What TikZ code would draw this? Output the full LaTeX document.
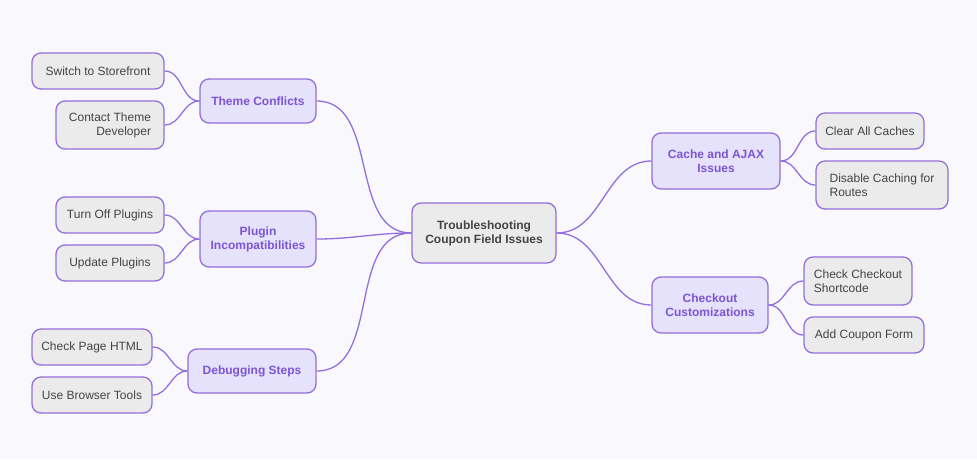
\documentclass[tikz,border=0pt]{standalone}
\usepackage{fontspec}
\setmainfont{Liberation Sans}
\begin{document}
\definecolor{bg}{HTML}{F8F8FD}
\definecolor{edge}{HTML}{9370DB}
\definecolor{midf}{HTML}{E6E2FC}
\definecolor{leaff}{HTML}{EBEBEB}
\definecolor{midt}{HTML}{7B55D4}
\definecolor{leaft}{HTML}{444444}
\begin{tikzpicture}[x=1pt,y=-1pt,
  box/.style={draw=edge,line width=1.3pt,rounded corners=9pt,align=center,inner sep=0pt,font=\fontsize{12}{14}\selectfont},
  mid/.style={box,fill=midf,text=midt,font=\fontsize{12}{14}\selectfont\bfseries},
  leaf/.style={box,fill=leaff,text=leaft},
  ctr/.style={box,fill=leaff,text=leaft,font=\fontsize{12}{14}\selectfont\bfseries},
  con/.style={draw=edge,line width=1.3pt}]
\fill[bg] (0,0) rectangle (977,459);
\useasboundingbox (0,0) rectangle (977,459);
\newcommand\bx[6]{\node[#1,minimum width=#4-#2,minimum height=#5-#3] (#6) at ({(#2+#4)/2},{(#3+#5)/2})}
\bx{ctr}{412}{203}{556}{263}{c} {Troubleshooting\\Coupon Field Issues};
\bx{mid}{200}{79}{316}{123}{tc} {Theme Conflicts};
\bx{mid}{200}{211}{316}{267}{pi} {Plugin\\Incompatibilities};
\bx{mid}{188}{349}{316}{393}{ds} {Debugging Steps};
\bx{mid}{652}{133}{780}{189}{ca} {Cache and AJAX\\Issues};
\bx{mid}{652}{277}{768}{333}{cc} {Checkout\\Customizations};
\bx{leaf}{32}{53}{164}{89}{l1} {Switch to Storefront};
\bx{leaf,align=right}{56}{101}{164}{149}{l2} {Contact Theme\\Developer};
\bx{leaf}{56}{197}{164}{233}{l3} {Turn Off Plugins};
\bx{leaf}{56}{245}{164}{281}{l4} {Update Plugins};
\bx{leaf}{32}{329}{152}{365}{l5} {Check Page HTML};
\bx{leaf}{32}{377}{152}{413}{l6} {Use Browser Tools};
\bx{leaf}{816}{113}{924}{149}{r1} {Clear All Caches};
\bx{leaf,align=left}{816}{161}{948}{209}{r2} {Disable Caching for\\Routes};
\bx{leaf,align=left}{804}{257}{912}{305}{r3} {Check Checkout\\Shortcode};
\bx{leaf}{804}{317}{924}{353}{r4} {Add Coupon Form};
\draw[con] (c.west) to[out=180,in=0] (tc.east);
\draw[con] (c.west) to[out=180,in=0] (pi.east);
\draw[con] (c.west) to[out=180,in=0] (ds.east);
\draw[con] (c.east) to[out=0,in=180] (ca.west);
\draw[con] (c.east) to[out=0,in=180] (cc.west);
\draw[con] (tc.west) to[out=180,in=0] (l1.east);
\draw[con] (tc.west) to[out=180,in=0] (l2.east);
\draw[con] (pi.west) to[out=180,in=0] (l3.east);
\draw[con] (pi.west) to[out=180,in=0] (l4.east);
\draw[con] (ds.west) to[out=180,in=0] (l5.east);
\draw[con] (ds.west) to[out=180,in=0] (l6.east);
\draw[con] (ca.east) to[out=0,in=180] (r1.west);
\draw[con] (ca.east) to[out=0,in=180] (r2.west);
\draw[con] (cc.east) to[out=0,in=180] (r3.west);
\draw[con] (cc.east) to[out=0,in=180] (r4.west);
\end{tikzpicture}
\end{document}
